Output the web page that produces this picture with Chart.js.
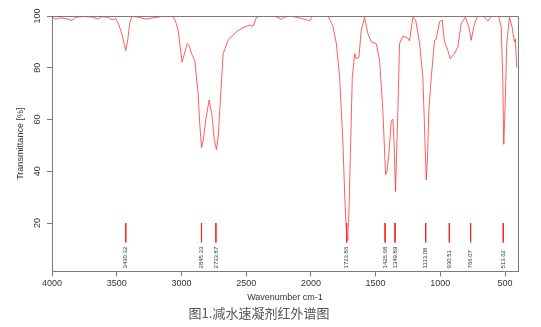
<!DOCTYPE html>
<html>
<head>
<meta charset="utf-8">
<script src="https://cdn.jsdelivr.net/npm/chart.js@4.4.0/dist/chart.umd.min.js"></script>
<style>
  html, body { margin: 0; padding: 0; background: #fff; }
  #wrap { width: 541px; height: 327px; }
</style>
</head>
<body>
<div id="wrap"><canvas id="irChart"></canvas></div>
<script>
// spectrum: wavenumber (cm-1) and transmittance (%)
const wavenumbers = [
  4000, 3969, 3938, 3892, 3846, 3815, 3753, 3691, 3645, 3614, 3568, 3537, 3506,
  3483, 3460, 3444, 3429, 3414, 3398, 3383, 3336, 3275, 3213, 3151, 3089, 3059,
  3043, 3026, 3012, 2995, 2982, 2956, 2939, 2922, 2897, 2871, 2858, 2845, 2831,
  2812, 2786, 2765, 2746, 2729, 2715, 2704, 2678, 2640, 2575, 2526, 2472, 2447,
  2420, 2380, 2302, 2264, 2228, 2202, 2148, 2117, 2071, 2009, 1986, 1932, 1868,
  1847, 1829, 1803, 1778, 1752, 1739, 1729, 1721, 1714, 1706, 1693, 1680, 1662,
  1649, 1629, 1611, 1585, 1560, 1533, 1495, 1469, 1444, 1423, 1412, 1398, 1379,
  1367, 1358, 1346, 1336, 1328, 1315, 1289, 1253, 1238, 1212, 1191, 1160, 1135,
  1122, 1109, 1099, 1089, 1070, 1045, 1032, 1006, 985, 968, 942, 924, 891, 865,
  839, 806, 780, 762, 736, 711, 667, 633, 605, 551, 530, 518, 510, 503, 497, 487,
  466, 446, 428, 420, 410, 405
];
const transmittance = [
  99.5, 98.8, 99.3, 99.0, 98.3, 99.5, 99.8, 99.6, 98.8, 99.7, 99.5, 98.5, 99.0,
  96.5, 93.0, 89.5, 86.7, 91.0, 97.5, 99.8, 99.6, 98.8, 99.3, 99.8, 100, 99.5,
  97.5, 94.5, 89.0, 82.2, 84.5, 89.3, 88.5, 85.4, 82.8, 69.9, 58.0, 49.1, 52.0,
  60.0, 67.5, 62.0, 52.0, 48.4, 54.0, 63.4, 85.4, 90.6, 93.9, 95.5, 96.5, 96.0,
  99.5, 100, 100, 99.6, 98.7, 99.6, 100, 99.5, 99.0, 98.2, 100, 100, 99.8,
  98.0, 95.8, 89.3, 76.3, 50.4, 30.9, 20.0, 13.3, 16.0, 24.4, 50.4, 76.3, 85.4,
  83.5, 84.0, 94.5, 99.5, 93.2, 90.0, 89.3, 82.8, 63.4, 38.7, 40.0, 46.5, 59.5,
  60.1, 52.0, 32.2, 50.0, 63.4, 89.3, 92.2, 91.5, 90.4, 99.5, 98.5, 89.3, 76.3,
  56.9, 36.7, 45.0, 63.4, 76.3, 90.6, 91.0, 97.8, 98.4, 90.0, 86.7, 83.5, 85.4, 88.0,
  97.1, 99.5, 95.8, 90.6, 97.1, 100, 100, 98.0, 100, 100, 95.8, 76.3, 50.4, 60.0, 69.9, 89.3,
  99.5, 95.8, 90.0, 91.0, 80.2, 80.0
];

// labelled peaks
const peakPositions = [3430.32, 2845.33, 2733.87, 1723.86, 1426.68, 1349.89, 1113.08, 930.51, 766.07, 513.62];
const peakLabels = ['3430.32', '2845.33', '2733.87', '1723.86', '1426.68', '1349.89', '1113.08', '930.51', '766.07', '513.62'];
const markerTop = 20;
const markerBottom = 12.5;

const xTicks = [4000, 3500, 3000, 2500, 2000, 1500, 1000, 500];
const yTicks = [20, 40, 60, 80, 100];

const spectrum = wavenumbers.map((w, i) => ({ x: w, y: transmittance[i] }));
const markers = [];
for (let p of peakPositions) {
    markers.push({ x: p, y: markerTop }, { x: p, y: markerBottom }, { x: p, y: null });
}

const axisGrey = '#7a7a7a';
const textGrey = '#333333';

// top and right sides of the frame
const frameBox = {
    id: 'frameBox',
    afterDraw(chart) {
        const { ctx, chartArea: a } = chart;
        ctx.save();
        ctx.strokeStyle = axisGrey;
        ctx.lineWidth = 1;
        ctx.beginPath();
        ctx.moveTo(a.left, a.top + 0.5);
        ctx.lineTo(a.right + 0.5, a.top + 0.5);
        ctx.lineTo(a.right + 0.5, a.bottom);
        ctx.stroke();
        ctx.restore();
    }
};

// vertical peak labels under the markers
const peakText = {
    id: 'peakText',
    afterDatasetsDraw(chart) {
        const { ctx } = chart;
        const xs = chart.scales.x;
        const ys = chart.scales.y;
        ctx.save();
        ctx.fillStyle = textGrey;
        ctx.font = '6px "Liberation Sans", Arial, sans-serif';
        ctx.textAlign = 'left';
        ctx.textBaseline = 'middle';
        peakPositions.forEach((p, i) => {
            ctx.save();
            ctx.translate(xs.getPixelForValue(p), ys.bottom - 3);
            ctx.rotate(-Math.PI / 2);
            ctx.fillText(peakLabels[i], 0, 0);
            ctx.restore();
        });
        ctx.restore();
    }
};

new Chart(document.getElementById('irChart').getContext('2d'), {
    type: 'line',
    data: {
        datasets: [{
            label: 'spectrum',
            data: spectrum,
            borderColor: 'rgba(255, 40, 40, 0.75)',
            borderWidth: 1,
            pointRadius: 0,
            tension: 0
        }, {
            label: 'peaks',
            data: markers,
            borderColor: 'rgba(255, 30, 30, 0.9)',
            borderWidth: 1,
            pointRadius: 0,
            spanGaps: false
        }]
    },
    options: {
        responsive: true,
        maintainAspectRatio: false,
        animation: false,
        events: [],
        layout: { padding: { top: 16, right: 23, left: 0, bottom: 4 } },
        plugins: {
            legend: { display: false },
            tooltip: { enabled: false },
            title: {
                display: true,
                position: 'bottom',
                text: '图1.减水速凝剂红外谱图',
                color: '#555555',
                font: { family: '"Noto Sans CJK SC", sans-serif', size: 13, weight: 'normal' },
                padding: { top: 2, bottom: 2 }
            }
        },
        scales: {
            x: {
                type: 'linear',
                reverse: true,
                min: 400,
                max: 4000,
                afterBuildTicks: (scale) => { scale.ticks = xTicks.map(v => ({ value: v })); },
                afterFit: (scale) => { scale.height = 32; },
                grid: { drawOnChartArea: false, drawTicks: true, tickLength: 5, color: axisGrey },
                border: { display: true, color: axisGrey, width: 1 },
                ticks: {
                    color: textGrey,
                    padding: 2,
                    maxRotation: 0,
                    callback: (v) => String(v),
                    font: { family: '"Liberation Sans", Arial, sans-serif', size: 9 }
                },
                title: {
                    display: true,
                    text: 'Wavenumber cm-1',
                    color: textGrey,
                    font: { family: '"Liberation Sans", Arial, sans-serif', size: 9 },
                    padding: { top: 0, bottom: 0 }
                }
            },
            y: {
                min: 1.3,
                max: 100,
                afterBuildTicks: (scale) => { scale.ticks = yTicks.map(v => ({ value: v })); },
                afterFit: (scale) => { scale.width = 52; },
                grid: { drawOnChartArea: false, drawTicks: true, tickLength: 5, color: axisGrey },
                border: { display: true, color: axisGrey, width: 1 },
                ticks: {
                    color: textGrey,
                    padding: 2,
                    minRotation: 90,
                    maxRotation: 90,
                    crossAlign: 'center',
                    callback: (v) => String(v),
                    font: { family: '"Liberation Sans", Arial, sans-serif', size: 9 }
                },
                title: {
                    display: true,
                    text: 'Transmittance [%]',
                    color: textGrey,
                    font: { family: '"Liberation Sans", Arial, sans-serif', size: 9 },
                    padding: { top: 15, bottom: 0 }
                }
            }
        }
    },
    plugins: [frameBox, peakText]
});
</script>
</body>
</html>
